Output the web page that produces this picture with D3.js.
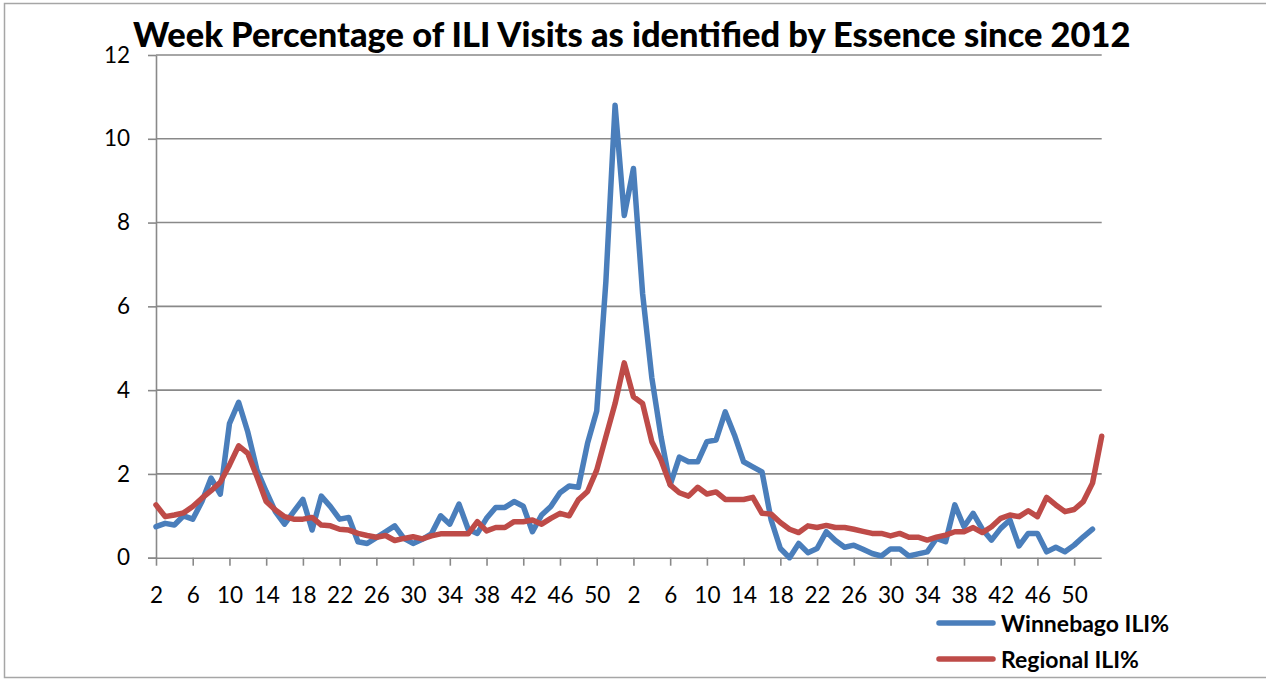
<!DOCTYPE html>
<html>
<head>
<meta charset="utf-8">
<script src="https://cdn.jsdelivr.net/npm/d3@7"></script>
<style>
  body { margin: 0; background: #fff; }
  svg { display: block; font-family: Lato, "Open Sans", sans-serif; }
</style>
</head>
<body>
<script>
// week numbers along the category axis (2012 wk2 .. 2014 wk1)
const weeks = [2,3,4,5,6,7,8,9,10,11,12,13,14,15,16,17,18,19,20,21,22,23,24,25,26,27,28,29,30,31,32,33,34,35,36,37,38,39,40,41,42,43,44,45,46,47,48,49,50,51,52,
  1,2,3,4,5,6,7,8,9,10,11,12,13,14,15,16,17,18,19,20,21,22,23,24,25,26,27,28,29,30,31,32,33,34,35,36,37,38,39,40,41,42,43,44,45,46,47,48,49,50,51,52,
  1];

const winnebago = [0.74,0.82,0.78,1.0,0.92,1.34,1.9,1.52,3.2,3.71,3.0,2.09,1.58,1.1,0.8,1.1,1.39,0.66,1.47,1.22,0.92,0.96,0.38,0.34,0.48,0.62,0.76,
  0.46,0.34,0.44,0.57,1.0,0.8,1.28,0.68,0.58,0.94,1.2,1.2,1.34,1.23,0.62,1.02,1.22,1.55,1.71,1.68,2.73,3.5,6.6,10.8,
  8.17,9.29,6.3,4.3,2.89,1.74,2.4,2.29,2.29,2.77,2.81,3.48,2.93,2.29,2.17,2.05,0.9,0.22,0.0,0.34,0.12,0.22,0.62,0.41,0.25,0.3,
  0.2,0.1,0.04,0.21,0.21,0.04,0.09,0.14,0.46,0.38,1.26,0.74,1.06,0.68,0.42,0.7,0.9,0.28,0.58,0.58,0.14,0.25,0.14,0.3,0.5,0.68,
  null];

const regional = [1.26,0.98,1.02,1.07,1.22,1.42,1.6,1.8,2.21,2.67,2.49,1.93,1.34,1.14,0.98,0.92,0.92,0.96,0.78,0.76,0.68,0.66,0.58,0.53,0.49,0.53,0.41,
  0.46,0.5,0.45,0.52,0.57,0.57,0.57,0.57,0.86,0.64,0.72,0.72,0.86,0.86,0.9,0.8,0.94,1.06,1.0,1.38,1.58,2.09,2.89,3.68,
  4.65,3.84,3.68,2.77,2.33,1.74,1.55,1.47,1.68,1.52,1.57,1.39,1.39,1.39,1.44,1.06,1.04,0.84,0.68,0.6,0.76,0.72,0.77,0.72,0.72,0.68,
  0.63,0.58,0.58,0.52,0.58,0.49,0.49,0.42,0.49,0.54,0.62,0.62,0.72,0.6,0.74,0.94,1.02,0.98,1.12,0.98,1.44,1.26,1.1,1.15,1.34,1.78,
  2.9];

const yTicks = [0, 2, 4, 6, 8, 10, 12];
const seriesNames = ["Winnebago ILI%", "Regional ILI%"];
const seriesColors = ["#4a7ebb", "#be4b48"];
const title = "Week Percentage of ILI Visits as identified by Essence since 2012";

const W = 1266, H = 683;
const plot = { left: 156, right: 1101.7, top: 55, bottom: 557.7 };
const gridColor = "#898989";

const svg = d3.select("body").append("svg")
  .attr("width", W)
  .attr("height", H);

// outer frame (left, top, bottom)
svg.append("path")
  .attr("d", `M${W},3.5 H4.5 V677.5 H${W}`)
  .attr("fill", "none")
  .attr("stroke", "#a6a6a6")
  .attr("stroke-width", 1.5);

// scales
const xScale = d3.scalePoint()
  .domain(weeks.map((w, i) => i))
  .range([plot.left, plot.right]);
const yScale = d3.scaleLinear()
  .domain([0, 12])
  .range([plot.bottom, plot.top]);

// gridlines
svg.append("g")
  .selectAll("line")
  .data(yTicks.filter(t => t > 0))
  .enter()
  .append("line")
  .attr("x1", plot.left)
  .attr("x2", plot.right)
  .attr("y1", d => yScale(d))
  .attr("y2", d => yScale(d))
  .attr("stroke", gridColor)
  .attr("stroke-width", 1.6);

// y axis
const yAxis = d3.axisLeft(yScale)
  .tickValues(yTicks)
  .tickSize(8)
  .tickSizeOuter(0)
  .tickPadding(18);
const gy = svg.append("g")
  .attr("transform", `translate(${plot.left},0)`)
  .call(yAxis);

// x axis
const xAxis = d3.axisBottom(xScale)
  .tickValues(xScale.domain().filter(i => i % 4 === 0))
  .tickFormat(i => weeks[i])
  .tickSize(8)
  .tickSizeOuter(0)
  .tickPadding(21);
const gx = svg.append("g")
  .attr("transform", `translate(0,${plot.bottom})`)
  .call(xAxis);

[gx, gy].forEach(g => {
  g.attr("font-size", null);
  g.select(".domain").attr("stroke", gridColor).attr("stroke-width", 1.6);
  g.selectAll(".tick line").attr("stroke", gridColor).attr("stroke-width", 1.6);
  g.selectAll(".tick text")
    .attr("fill", "#000")
    .attr("font-size", 22.5)
    .attr("font-family", "Lato, sans-serif");
});
// extend x axis line left under the y tick
gx.select(".domain").attr("d", `M${plot.left - 8},0.5H${plot.right}`);

// lines
const line = d3.line()
  .defined(d => d.v !== null)
  .x(d => xScale(d.i))
  .y(d => yScale(d.v));

[winnebago, regional].forEach((vals, k) => {
  svg.append("path")
    .datum(vals.map((v, i) => ({ i, v })))
    .attr("fill", "none")
    .attr("stroke", seriesColors[k])
    .attr("stroke-width", 5.5)
    .attr("stroke-linejoin", "round")
    .attr("stroke-linecap", "round")
    .attr("d", line);
});

// title
const t = svg.append("text")
  .attr("x", 133)
  .attr("y", 47)
  .attr("font-weight", "900")
  .style("font-size", "32px")
  .style("font-family", "Lato, sans-serif")
  .text(title);
const tw = t.node().getComputedTextLength();
t.style("font-size", (32 * 998 / tw) + "px");

// legend
const legend = svg.append("g");
seriesNames.forEach((name, k) => {
  const y = 623 + k * 36;
  legend.append("line")
    .attr("x1", 939).attr("x2", 993)
    .attr("y1", y).attr("y2", y)
    .attr("stroke", seriesColors[k])
    .attr("stroke-width", 5.5)
    .attr("stroke-linecap", "round");
  legend.append("text")
    .attr("x", 1001)
    .attr("y", y + 9)
    .attr("font-weight", "bold")
    .style("font-size", "23px")
    .style("font-family", "Lato, sans-serif")
    .text(name);
});
</script>
</body>
</html>
